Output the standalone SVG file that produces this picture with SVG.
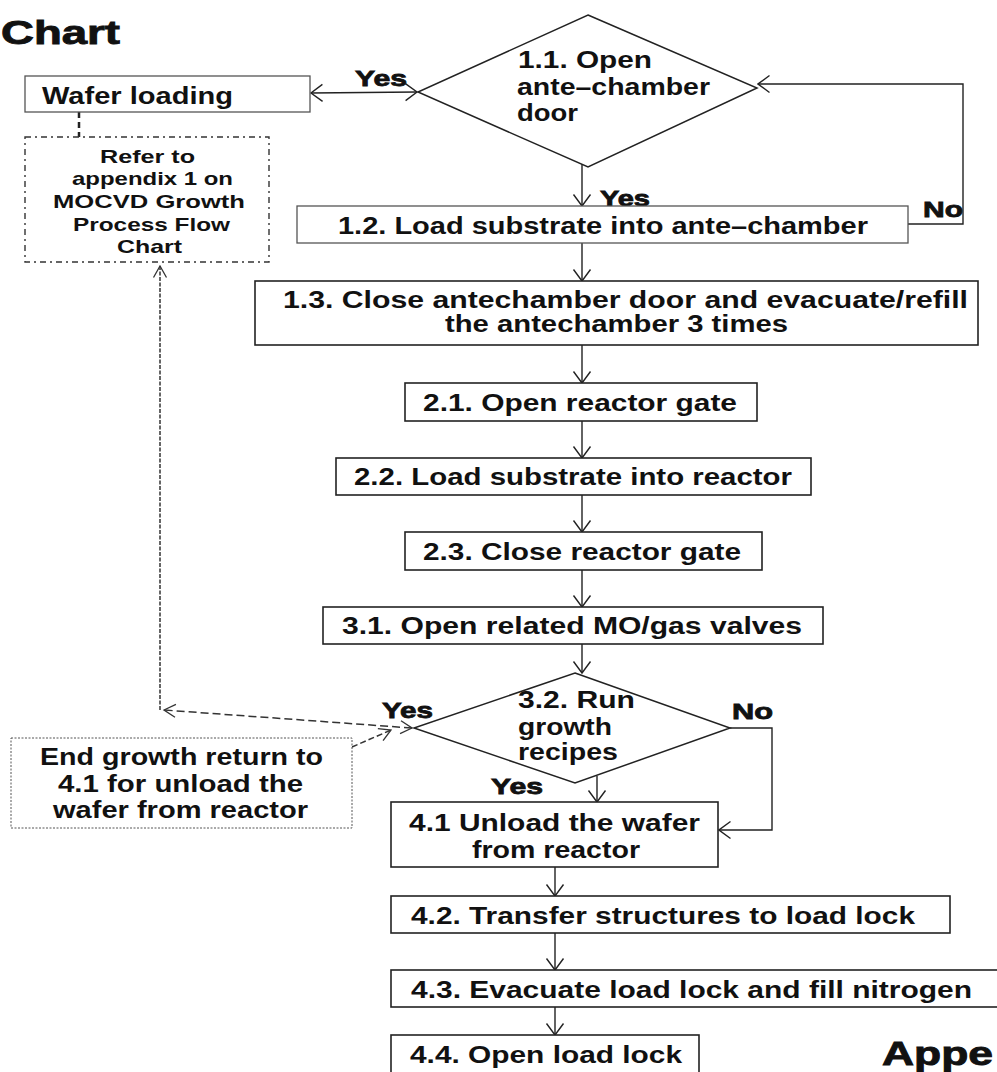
<svg xmlns="http://www.w3.org/2000/svg" width="997" height="1072" viewBox="0 0 997 1072">
<defs>
<marker id="arr" markerUnits="userSpaceOnUse" markerWidth="14" markerHeight="20" viewBox="0 0 14 20" refX="12.5" refY="10" orient="auto-start-reverse">
<path d="M1,1.5 L12.5,10 L1,18.5" fill="none" stroke="#222" stroke-width="1.4"/>
</marker>
<marker id="arrs" markerUnits="userSpaceOnUse" markerWidth="14" markerHeight="16" viewBox="0 0 14 16" refX="12.5" refY="8" orient="auto-start-reverse">
<path d="M1,1.5 L12.5,8 L1,14.5" fill="none" stroke="#333" stroke-width="1.3"/>
</marker>
</defs>
<style>
text{font-family:"Liberation Sans",Arial,sans-serif;font-weight:bold;fill:#111;}
.t{font-size:23px;}
.s{font-size:18.5px;}
.lbl{font-size:22px;stroke:#111;stroke-width:0.8px;}
.big{font-size:34px;stroke:#111;stroke-width:0.9px;}
.box{fill:#fff;stroke:#222;stroke-width:1.6;}
.boxl{fill:#fff;stroke:#555;stroke-width:1.3;}
.dia{fill:#fff;stroke:#222;stroke-width:1.5;}
.c{fill:none;stroke:#222;stroke-width:1.4;}
.mid{text-anchor:middle;}
</style>
<rect width="997" height="1072" fill="#fff"/>
<text class="big" x="1" y="44" textLength="119" lengthAdjust="spacingAndGlyphs">Chart</text>

<g id="connectors">
<line class="c" x1="311" y1="93" x2="417" y2="92" marker-start="url(#arr)" marker-end="url(#arr)"/>
<line class="c" x1="582" y1="164" x2="582" y2="206" marker-end="url(#arr)"/>
<polyline class="c" points="908,224 963,224 963,84 758,84" marker-end="url(#arr)"/>
<line class="c" x1="582" y1="243" x2="582" y2="281" marker-end="url(#arr)"/>
<line class="c" x1="582" y1="345" x2="582" y2="383" marker-end="url(#arr)"/>
<line class="c" x1="582" y1="421" x2="582" y2="458" marker-end="url(#arr)"/>
<line class="c" x1="582" y1="495" x2="582" y2="532" marker-end="url(#arr)"/>
<line class="c" x1="582" y1="570" x2="582" y2="607" marker-end="url(#arr)"/>
<line class="c" x1="582" y1="644" x2="582" y2="673" marker-end="url(#arr)"/>
<line class="c" x1="597" y1="776" x2="597" y2="802" marker-end="url(#arr)"/>
<polyline class="c" points="730,728 772,728 772,830 719,830" marker-end="url(#arr)"/>
<line class="c" x1="555" y1="867" x2="555" y2="896" marker-end="url(#arr)"/>
<line class="c" x1="555" y1="933" x2="555" y2="970" marker-end="url(#arr)"/>
<line class="c" x1="555" y1="1007" x2="555" y2="1035" marker-end="url(#arr)"/>
<line x1="79" y1="112" x2="79" y2="137" stroke="#222" stroke-width="2.5" stroke-dasharray="6,4"/>
<line x1="160" y1="710" x2="160" y2="266" stroke="#333" stroke-width="1.5" stroke-dasharray="4,1.5" marker-end="url(#arrs)"/>
<line x1="412" y1="728" x2="164" y2="710" stroke="#333" stroke-width="1.5" stroke-dasharray="8,4" marker-start="url(#arrs)" marker-end="url(#arrs)"/>
<line x1="352" y1="747" x2="391" y2="730" stroke="#333" stroke-width="1.5" stroke-dasharray="6,3" marker-end="url(#arrs)"/>
</g>

<g id="n_wafer">
<rect class="boxl" x="25" y="76" width="285" height="36"/>
<text class="t" x="42" y="104" textLength="191" lengthAdjust="spacingAndGlyphs">Wafer loading</text>
</g>
<g id="n_refer">
<rect x="25" y="137" width="244" height="125" fill="#fff" stroke="#333" stroke-width="1.4" stroke-dasharray="6,4,2,4"/>
<text class="s mid" x="147.5" y="163" textLength="95" lengthAdjust="spacingAndGlyphs">Refer to</text>
<text class="s mid" x="152.5" y="185" textLength="161" lengthAdjust="spacingAndGlyphs">appendix 1 on</text>
<text class="s mid" x="149" y="208" textLength="192" lengthAdjust="spacingAndGlyphs">MOCVD Growth</text>
<text class="s mid" x="151.5" y="231" textLength="157" lengthAdjust="spacingAndGlyphs">Process Flow</text>
<text class="s mid" x="149.5" y="253" textLength="65" lengthAdjust="spacingAndGlyphs">Chart</text>
</g>
<g id="n_1_1">
<polygon class="dia" points="588,15 757,88 588,167 418,92"/>
<text class="t" x="518" y="68" textLength="134" lengthAdjust="spacingAndGlyphs">1.1. Open</text>
<text class="t" x="517" y="95" textLength="193" lengthAdjust="spacingAndGlyphs">ante–chamber</text>
<text class="t" x="517" y="121" textLength="61" lengthAdjust="spacingAndGlyphs">door</text>
</g>
<g id="labels_top">
<text class="lbl" x="355" y="86" textLength="52" lengthAdjust="spacingAndGlyphs">Yes</text>
<text class="lbl" x="600" y="206" textLength="50" lengthAdjust="spacingAndGlyphs">Yes</text>
<text class="lbl" x="923" y="217" textLength="40" lengthAdjust="spacingAndGlyphs">No</text>
</g>
<g id="n_1_2">
<rect class="boxl" x="297" y="206" width="611" height="37"/>
<text class="t" x="338" y="234" textLength="530" lengthAdjust="spacingAndGlyphs">1.2. Load substrate into ante–chamber</text>
</g>
<g id="n_1_3">
<rect class="box" x="255" y="281" width="723" height="64"/>
<text class="t" x="283" y="308" textLength="685" lengthAdjust="spacingAndGlyphs">1.3. Close antechamber door and evacuate/refill</text>
<text class="t" x="445" y="332" textLength="343" lengthAdjust="spacingAndGlyphs">the antechamber 3 times</text>
</g>
<g id="n_2_1">
<rect class="box" x="405" y="383" width="352" height="38"/>
<text class="t" x="423" y="411" textLength="314" lengthAdjust="spacingAndGlyphs">2.1. Open reactor gate</text>
</g>
<g id="n_2_2">
<rect class="box" x="336" y="458" width="475" height="37"/>
<text class="t" x="354" y="485" textLength="438" lengthAdjust="spacingAndGlyphs">2.2. Load substrate into reactor</text>
</g>
<g id="n_2_3">
<rect class="box" x="405" y="532" width="357" height="38"/>
<text class="t" x="423" y="560" textLength="318" lengthAdjust="spacingAndGlyphs">2.3. Close reactor gate</text>
</g>
<g id="n_3_1">
<rect class="box" x="323" y="607" width="500" height="37"/>
<text class="t" x="342" y="634" textLength="460" lengthAdjust="spacingAndGlyphs">3.1. Open related MO/gas valves</text>
</g>
<g id="n_3_2">
<polygon class="dia" points="575,673 730,728 575,783 414,728"/>
<text class="t" x="518" y="708" textLength="117" lengthAdjust="spacingAndGlyphs">3.2. Run</text>
<text class="t" x="518" y="735" textLength="94" lengthAdjust="spacingAndGlyphs">growth</text>
<text class="t" x="518" y="760" textLength="100" lengthAdjust="spacingAndGlyphs">recipes</text>
</g>
<g id="labels_mid">
<text class="lbl" x="382" y="718" textLength="51" lengthAdjust="spacingAndGlyphs">Yes</text>
<text class="lbl" x="732" y="719" textLength="41" lengthAdjust="spacingAndGlyphs">No</text>
<text class="lbl" x="491" y="794" textLength="52" lengthAdjust="spacingAndGlyphs">Yes</text>
</g>
<g id="n_end">
<rect x="11" y="738" width="341" height="90" fill="#fff" stroke="#555" stroke-width="1" stroke-dasharray="2,1.5"/>
<text class="t" x="40" y="765" textLength="283" lengthAdjust="spacingAndGlyphs">End growth return to</text>
<text class="t" x="58" y="792" textLength="245" lengthAdjust="spacingAndGlyphs">4.1 for unload the</text>
<text class="t" x="53" y="818" textLength="255" lengthAdjust="spacingAndGlyphs">wafer from reactor</text>
</g>
<g id="n_4_1">
<rect class="box" x="391" y="802" width="327" height="65"/>
<text class="t" x="409" y="831" textLength="291" lengthAdjust="spacingAndGlyphs">4.1 Unload the wafer</text>
<text class="t" x="472" y="858" textLength="168" lengthAdjust="spacingAndGlyphs">from reactor</text>
</g>
<g id="n_4_2">
<rect class="box" x="391" y="896" width="559" height="37"/>
<text class="t" x="411" y="924" textLength="504" lengthAdjust="spacingAndGlyphs">4.2. Transfer structures to load lock</text>
</g>
<g id="n_4_3">
<rect class="box" x="391" y="970" width="612" height="37"/>
<text class="t" x="411" y="998" textLength="561" lengthAdjust="spacingAndGlyphs">4.3. Evacuate load lock and fill nitrogen</text>
</g>
<g id="n_4_4">
<rect class="box" x="391" y="1035" width="308" height="42"/>
<text class="t" x="410" y="1063" textLength="272" lengthAdjust="spacingAndGlyphs">4.4. Open load lock</text>
</g>
<text class="big" x="882" y="1065" textLength="111" lengthAdjust="spacingAndGlyphs">Appe</text>
</svg>
